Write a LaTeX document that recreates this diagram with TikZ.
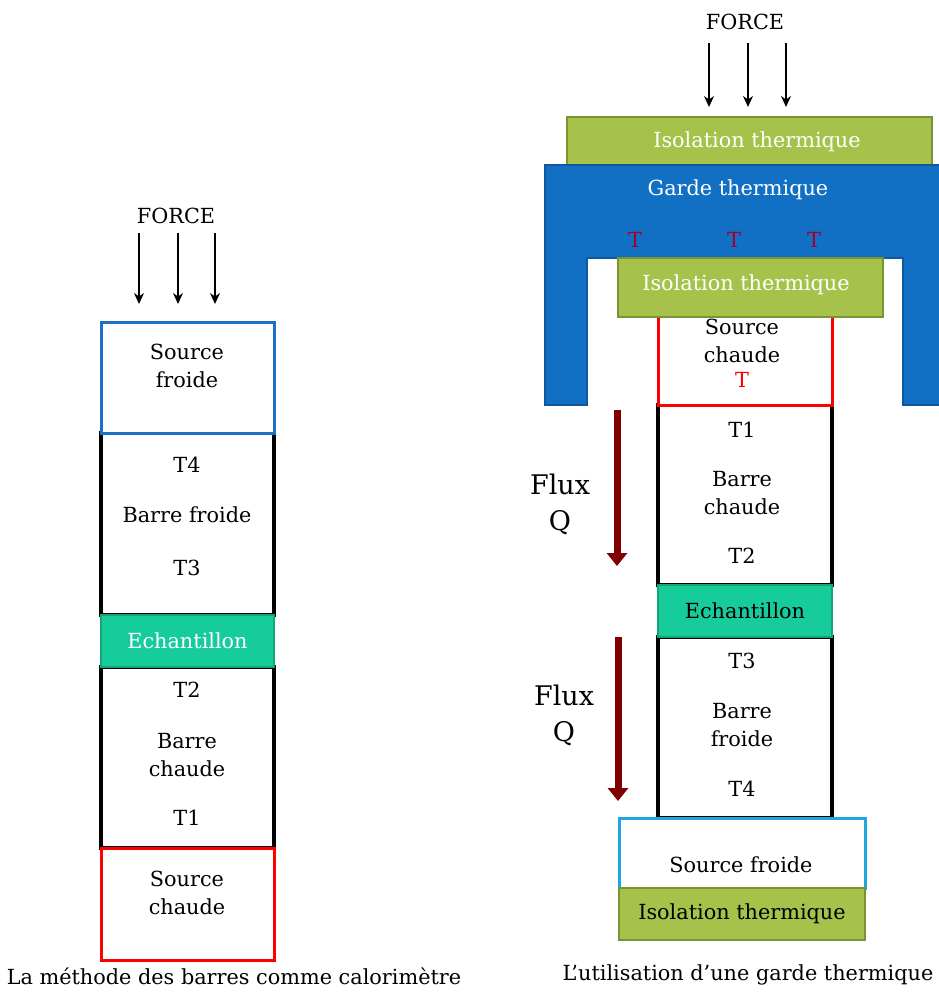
\documentclass[tikz,border=0pt]{standalone}
\usepackage{fontspec}
\setmainfont{DejaVu Serif}
\usetikzlibrary{arrows.meta}

\definecolor{echgreen}{RGB}{22,204,154}
\definecolor{echborder}{RGB}{18,165,122}
\definecolor{isogreen}{RGB}{166,194,74}
\definecolor{isoborder}{RGB}{122,148,52}
\definecolor{gardeblue}{RGB}{18,112,196}
\definecolor{gardeborder}{RGB}{14,88,160}
\definecolor{coldblue}{RGB}{31,111,198}
\definecolor{coldcyan}{RGB}{30,168,224}
\definecolor{fluxred}{RGB}{128,0,0}
\definecolor{tred}{RGB}{165,0,40}

\begin{document}
\begin{tikzpicture}[x=1pt,y=-1pt,>=Stealth,
    txt/.style={font=\fontsize{20.8}{28}\selectfont,align=center,inner sep=0pt},
    fluxtxt/.style={font=\fontsize{27}{36}\selectfont,align=center,inner sep=0pt},
    bar/.style={draw=black,line width=3.4pt,inner sep=0pt},
    hotsrc/.style={draw=red,line width=3pt,fill=white,inner sep=0pt},
    coldsrc/.style={draw=#1,line width=3pt,fill=white,inner sep=0pt},
    sample/.style={fill=echgreen,draw=echborder,line width=1.5pt,inner sep=0pt},
    iso/.style={fill=isogreen,draw=isoborder,line width=1.5pt,inner sep=0pt},
    force/.style={->,line width=1.3pt,>={Stealth[length=11pt,width=10pt]}},
    flux/.style={-{Triangle[length=13pt,width=20pt]},line width=7pt,fluxred}]
    \useasboundingbox (0,0) rectangle (939,994);

    % Left: la methode des barres
    \node[txt] (lforce) at (176,216) {FORCE};
    \foreach \x in {139,178,215}
        \draw[force] (\x,233) -- (\x,304);

    \node[bar,minimum width=173,minimum height=182] (lbf) at (187.5,524) {};
    \node[bar,minimum width=173,minimum height=181] (lbc) at (187.5,757.5) {};
    \node[coldsrc=coldblue,minimum width=173,minimum height=111] (lsf) at (187.5,377.5) {};
    \node[hotsrc,minimum width=173,minimum height=112] (lsc) at (187.5,904) {};
    \node[sample,minimum width=173,minimum height=52,text=white,txt] (lech) at (187.5,641) {Echantillon};

    \node[txt] (lsftxt) at (187,366) {Source\\froide};
    \node[txt] (lt4) at (187,465) {T4};
    \node[txt] (lbftxt) at (187,515) {Barre froide};
    \node[txt] (lt3) at (187,568) {T3};
    \node[txt] (lt2) at (187,690) {T2};
    \node[txt] (lbctxt) at (187,755.5) {Barre\\chaude};
    \node[txt] (lt1) at (187,818) {T1};
    \node[txt] (lsctxt) at (187,893) {Source\\chaude};
    \node[txt] (lcap) at (234,976) {La méthode des barres comme calorimètre};

    % Right: garde thermique
    \node[txt] (rforce) at (745,22) {FORCE};
    \foreach \x in {709,748,786}
        \draw[force] (\x,43) -- (\x,107);

    \node[iso,minimum width=365,minimum height=48] (rtopiso) at (749.5,141) {};
    \node[txt,text=white] (rtopisotxt) at (757,142) {Isolation thermique};

    \filldraw[fill=gardeblue,draw=gardeborder,line width=1.5pt]
        (545,165) -- (945,165) -- (945,405) -- (903,405) -- (903,258)
        -- (587,258) -- (587,405) -- (545,405) -- cycle;
    \node[txt,text=white] (rgarde) at (738,190) {Garde thermique};
    \foreach \x in {635,734,814}
        \node[txt,text=tred] at (\x,240) {T};

    \node[bar,minimum width=174,minimum height=180] (rbc) at (745,495) {};
    \node[bar,minimum width=174,minimum height=181] (rbf) at (745,727.5) {};
    \node[hotsrc,minimum width=174,minimum height=105] (rsc) at (745,352.5) {};
    \node[iso,minimum width=265,minimum height=59] (rmidiso) at (750.5,287.5) {};
    \node[txt,text=white] (rmidisotxt) at (746,285) {Isolation thermique};
    \node[sample,minimum width=174,minimum height=52,txt] (rech) at (745,611) {Echantillon};
    \node[coldsrc=coldcyan,minimum width=246,minimum height=70] (rsf) at (742,853) {};
    \node[iso,minimum width=246,minimum height=52,txt] (rbotiso) at (742,914) {Isolation thermique};

    \node[txt] (rsctxt) at (742,340.5) {Source\\chaude};
    \node[txt,text=red] (rsct) at (742,380) {T};
    \node[txt] (rt1) at (742,430) {T1};
    \node[txt] (rbctxt) at (742,493) {Barre\\chaude};
    \node[txt] (rt2) at (742,556) {T2};
    \node[txt] (rt3) at (742,661) {T3};
    \node[txt] (rbftxt) at (742,725.5) {Barre\\froide};
    \node[txt] (rt4) at (742,789) {T4};
    \node[txt] (rsftxt) at (741,865) {Source froide};
    \node[txt] (rcap) at (748,975) {L’utilisation d’une garde thermique};

    % Flux
    \draw[flux] (617,410) -- (617,566);
    \draw[flux] (618,637) -- (618,801);
    \node[fluxtxt] (rflux1) at (560,504) {Flux\\Q};
    \node[fluxtxt] (rflux2) at (564,715) {Flux\\Q};
\end{tikzpicture}
\end{document}
